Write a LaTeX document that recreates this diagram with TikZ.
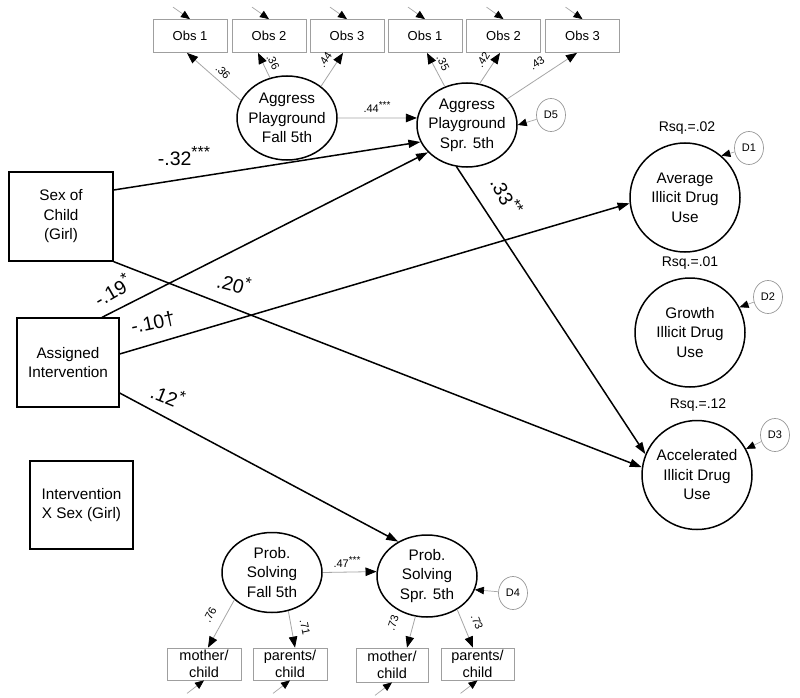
\documentclass[tikz,border=0pt]{standalone}
\usepackage{fontspec}
\setmainfont{Liberation Sans}
\usetikzlibrary{arrows.meta,shapes.geometric,calc}
\newcommand\bigstars[1]{\raisebox{0.38em}{\fontsize{16}{16}\selectfont #1}}
\newcommand\smallstars[1]{\raisebox{0.35em}{\fontsize{10}{10}\selectfont #1}}
\begin{document}
\begin{tikzpicture}[x=1pt,y=-1pt,
  lat/.style={draw, ellipse, line width=1.5pt, inner sep=0pt},
  lattext/.style={align=center, font=\fontsize{15.3}{19.5}\selectfont, inner sep=0pt},
  distc/.style={draw=gray!80, ellipse, line width=0.7pt, inner sep=0pt, minimum width=29pt, minimum height=33pt, font=\fontsize{11}{13}\selectfont},
  obsbox/.style={draw=gray!75, line width=0.8pt, minimum width=74pt, minimum height=33pt, inner sep=0pt, font=\fontsize{13}{15}\selectfont},
  indbox/.style={draw=gray!75, line width=0.8pt, minimum width=74pt, minimum height=32pt, inner sep=0pt, align=center, font=\fontsize{14.5}{16.7}\selectfont},
  exobox/.style={draw, line width=1.3pt, inner sep=0pt, align=center, font=\fontsize{15.3}{19.5}\selectfont},
  mainarr/.style={line width=1.5pt, -{Triangle[length=12pt,width=8pt]}},
  loadarr/.style={draw=gray!70, line width=0.8pt, -{Triangle[length=11pt,width=8.5pt,color=black]}},
  errarr/.style={draw=gray!70, line width=0.7pt, -{Triangle[length=9pt,width=7.5pt,color=black]}},
  biglab/.style={font=\fontsize{19.5}{22}\selectfont, inner sep=0pt},
  smalllab/.style={font=\fontsize{11}{13}\selectfont, inner sep=0pt},
  rsqlab/.style={font=\fontsize{14}{16}\selectfont, inner sep=0pt},
]
\useasboundingbox (0,0) rectangle (800,698);
\fill[white] (0,0) rectangle (800,698);

% observed indicators (top)
\node[obsbox] (o1) at (190,36) {Obs 1};
\node[obsbox] (o2) at (269,36) {Obs 2};
\node[obsbox] (o3) at (347,36) {Obs 3};
\node[obsbox] (o4) at (425,36) {Obs 1};
\node[obsbox] (o5) at (503.5,36) {Obs 2};
\node[obsbox] (o6) at (582.5,36) {Obs 3};

% latent aggression
\node[lat, minimum width=100pt, minimum height=84pt,
  label={[lattext]center:{Aggress\\Playground\\Fall 5th}}] (AF) at (287,118) {};
\node[lat, minimum width=100pt, minimum height=84pt,
  label={[lattext]center:{Aggress\\Playground\\Spr. 5th}}] (AS) at (467,125) {};
\node[distc] (D5) at (551,115) {D5};

% exogenous
\node[exobox, minimum width=104pt, minimum height=89pt] (Sex) at (61,216.5) {Sex of\\Child\\(Girl)};
\node[exobox, minimum width=102pt, minimum height=89pt] (Asg) at (68,362.5) {Assigned\\Intervention};
\node[exobox, minimum width=103pt, minimum height=88pt] (IxS) at (81.5,505) {Intervention\\X Sex (Girl)};

% outcomes
\node[lat, minimum width=110pt, minimum height=109pt,
  label={[lattext]center:{Average\\Illicit Drug\\Use}}] (Avg) at (685,197.5) {};
\node[lat, minimum width=110pt, minimum height=109pt,
  label={[lattext]center:{Growth\\Illicit Drug\\Use}}] (Gro) at (690,332.5) {};
\node[lat, minimum width=110pt, minimum height=109pt,
  label={[lattext]center:{Accelerated\\Illicit Drug\\Use}}] (Acc) at (697,475) {};
\node[distc] (D1) at (749,148) {D1};
\node[distc] (D2) at (768,297) {D2};
\node[distc] (D3) at (775,435) {D3};
\node[rsqlab] (R1) at (687,128) {Rsq.=.02};
\node[rsqlab] (R2) at (690,263) {Rsq.=.01};
\node[rsqlab] (R3) at (698,405) {Rsq.=.12};

% problem solving
\node[lat, minimum width=100pt, minimum height=80pt,
  label={[lattext]center:{Prob.\\Solving\\Fall 5th}}] (PF) at (272,572.5) {};
\node[lat, minimum width=100pt, minimum height=82pt,
  label={[lattext]center:{Prob.\\Solving\\Spr. 5th}}] (PS) at (427,576) {};
\node[distc] (D4) at (513,593) {D4};

% bottom indicators
\node[indbox] (b1) at (204,664) {mother/\\child};
\node[indbox] (b2) at (290,664) {parents/\\child};
\node[indbox, minimum width=72pt, minimum height=34pt] (b3) at (392,665) {mother/\\child};
\node[indbox, minimum width=73pt] (b4) at (477.5,664) {parents/\\child};

% error arrows into indicators
\foreach \o in {o1,o2,o3,o4,o5,o6}{
  \coordinate (e\o) at ($(\o.north)+(-17,-12)$);
  \draw[errarr] (e\o) -- (\o.north);
}
\foreach \b in {b1,b2,b3,b4}{
  \coordinate (e\b) at ($(\b.south)+(-17,13)$);
  \draw[errarr] (e\b) -- (\b.south);
}

% loadings top
\draw[loadarr] (AF.159) -- ($(o1.south)+(-3,0)$);
\draw[loadarr] (AF.113) -- ($(o2.south)+(-11,0)$);
\draw[loadarr] (AF.43) -- ($(o3.south)+(-4,0)$);
\draw[loadarr] (AS.120) -- ($(o4.south)+(2,0)$);
\draw[loadarr] (AS.73) -- ($(o5.south)+(-3.5,0)$);
\draw[loadarr] (AS.33) -- ($(o6.south)+(-5.5,0)$);
\node[smalllab, rotate=-45] at (223,72) {.36};
\node[smalllab, rotate=-62] at (273,62) {.36};
\node[smalllab, rotate=57] at (325,60) {.44};
\node[smalllab, rotate=-63] at (443,63) {.35};
\node[smalllab, rotate=57] at (483,60) {.42};
\node[smalllab, rotate=34] at (537,63) {.43};

% stability paths
\draw[loadarr] (AF.east) -- (AS.172);
\node[smalllab] at (377,107) {.44\smallstars{***}};
\draw[loadarr] (PF.east) -- (PS.175);
\node[smalllab] at (347,562) {.47\smallstars{***}};

% disturbances
\draw[errarr] (D5) -- (AS.east);
\draw[errarr] (D1) -- (Avg.49);
\draw[errarr] (D2) -- (Gro.27);
\draw[errarr] (D3) -- (Acc.28);
\draw[errarr] (D4) -- (PS.-16);

% loadings bottom
\draw[loadarr] (PF.216) -- ($(b1.north)+(4,0)$);
\draw[loadarr] (PF.293) -- ($(b2.north)+(5,0)$);
\draw[loadarr] (PS.254) -- ($(b3.north)+(15,0)$);
\draw[loadarr] (PS.312) -- ($(b4.north)+(-4.5,0)$);
\node[smalllab, rotate=62] at (210,615) {.76};
\node[smalllab, rotate=-78] at (305,627) {.71};
\node[smalllab, rotate=72] at (393,623) {.73};
\node[smalllab, rotate=-68] at (477,622) {.73};

% structural paths
\draw[mainarr] ($(Sex.east)+(0,-26.5)$) -- (AS.200);
\draw[mainarr] ($(Asg.north)+(34,0)$) -- (AS.215);
\draw[mainarr] ($(Asg.east)+(0,-8.5)$) -- (Avg.186);
\draw[mainarr] (Sex.south east) -- (Acc.172);
\draw[mainarr] (AS.256) -- (Acc.158);
\draw[mainarr] ($(Asg.east)+(0,30.5)$) -- (PS.130);

\node[biglab] at (184,156) {-.32\bigstars{***}};
\node[biglab, rotate=30] at (112,290) {-.19\bigstars{*}};
\node[biglab, rotate=-15] at (234,283) {.20\bigstars{*}};
\node[biglab, rotate=12] at (153,323) {-.10†};
\node[biglab, rotate=-22] at (168,395) {.12\bigstars{*}};
\node[biglab, rotate=-62] at (507,196) {.33\bigstars{**}};
\end{tikzpicture}
\end{document}
